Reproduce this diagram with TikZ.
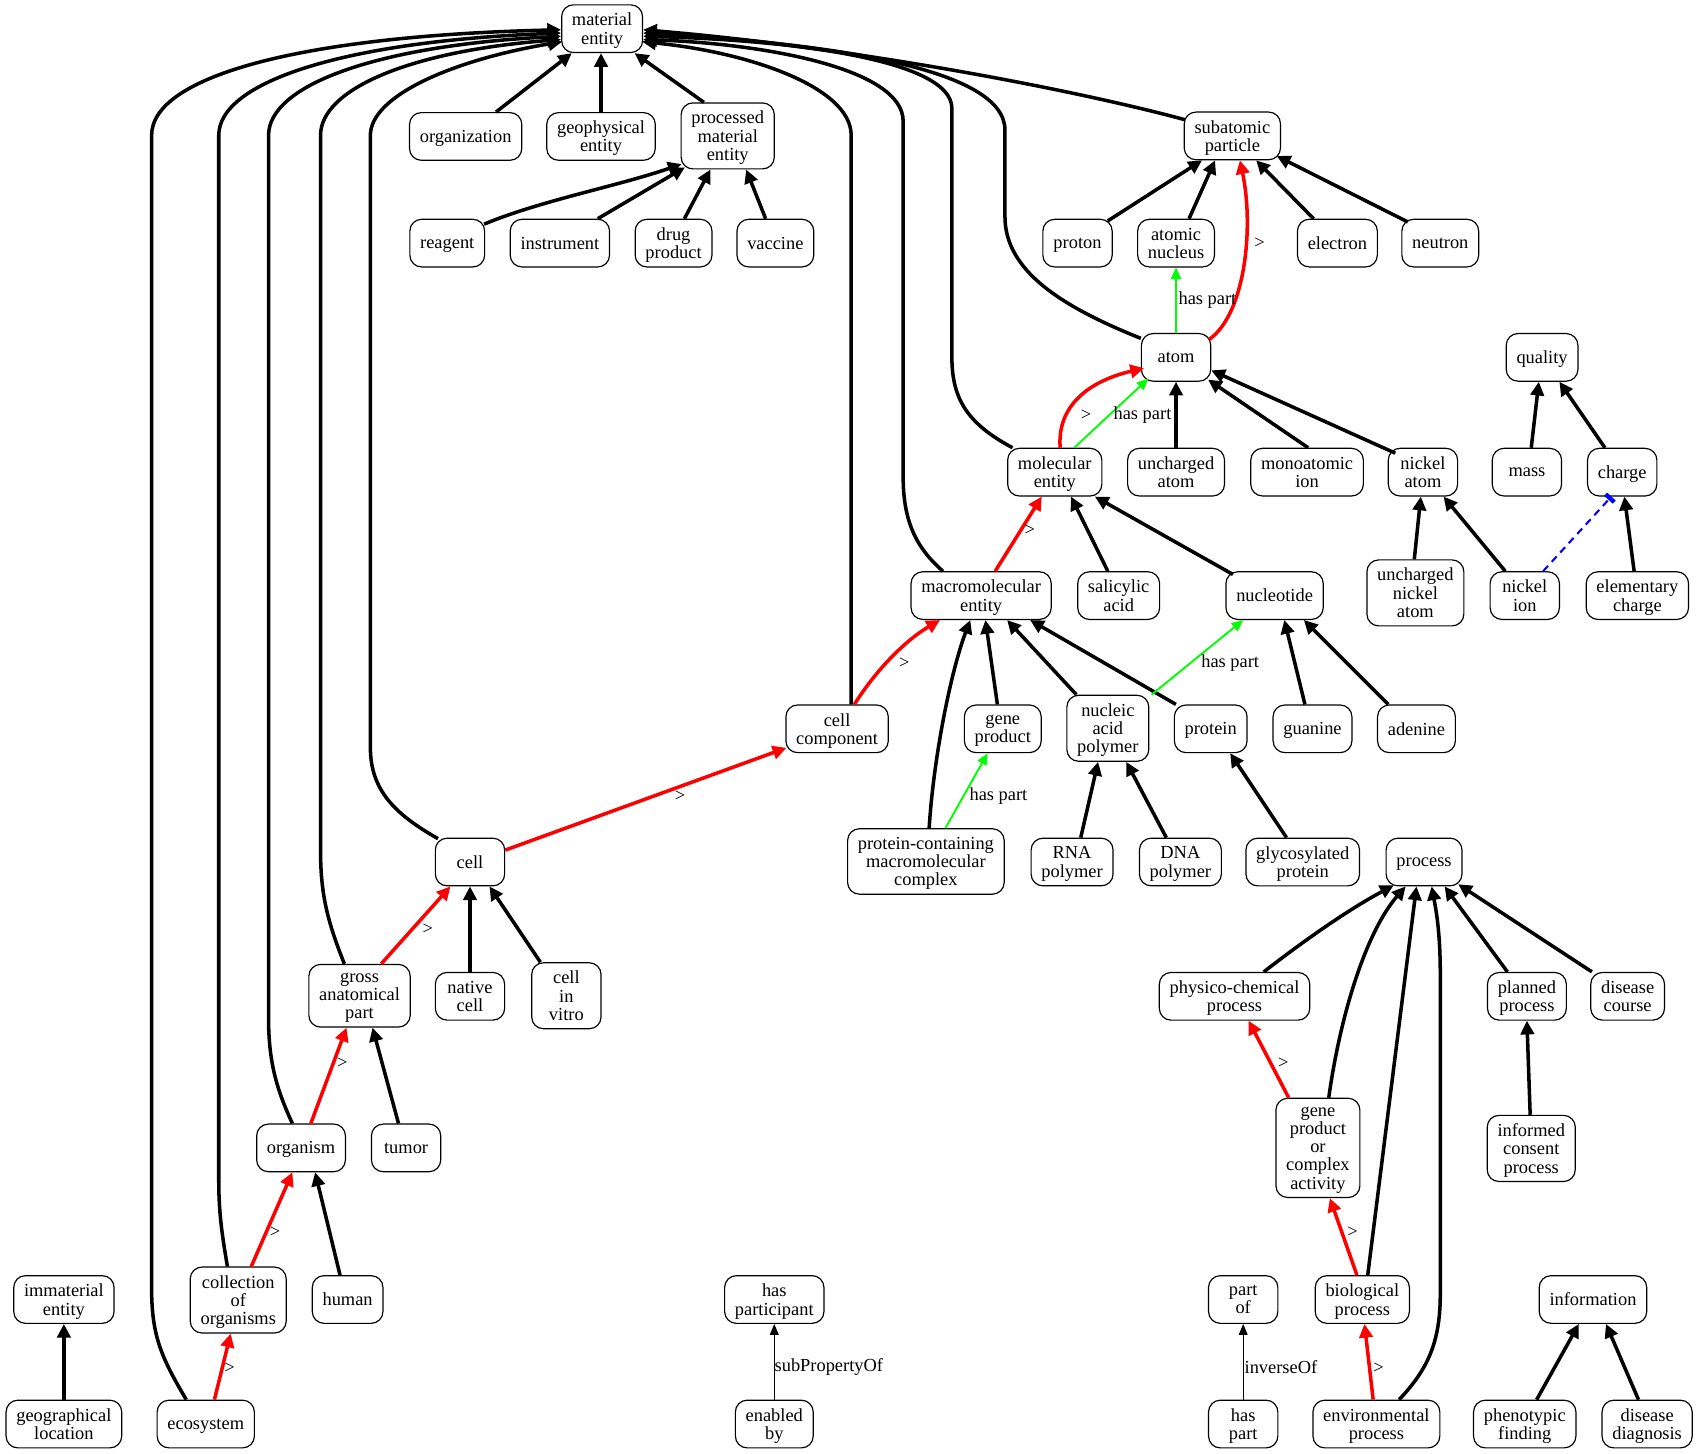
\documentclass[tikz,border=0pt]{standalone}
\usepackage{fontspec}
\setmainfont{Liberation Serif}
\usetikzlibrary{arrows.meta,calc}
\newcommand\nodefont{\fontsize{10.2}{10.14}\selectfont}
\begin{document}
\begin{tikzpicture}[x=0.6pt,y=-0.6pt,
  box/.style={draw, line width=0.65pt, rounded corners=6.5pt, align=center,
    minimum width=38.4pt, minimum height=26.4pt, inner xsep=5.7pt, inner ysep=4.6pt,
    text depth=0pt, font=\nodefont},
  lab/.style={font=\nodefont, inner sep=0pt},
  isa/.style={line width=1.95pt, -{Triangle[length=7.6pt,width=7.4pt]}},
  subcls/.style={isa, red},
  hp/.style={line width=1.05pt, green, -{Triangle[length=6.4pt,width=5.6pt]}},
  prop/.style={line width=0.65pt, -{Triangle[length=6pt,width=4.8pt]}},
  dis/.style={line width=1.15pt, blue, dash pattern=on 4pt off 3pt,
    -{Bar[width=6.5pt,line width=2.4pt]}}]
\path[fill=white,use as bounding box] (0,0) rectangle (1568,1342);

% ---------- nodes ----------
\node[box] (me) at (556,26.5) {material\\entity};
\node[box] (org) at (430,126) {organization};
\node[box] (geo) at (555,126) {geophysical\\entity};
\node[box] (pme) at (672,125.5) {processed\\material\\entity};
\node[box] (reag) at (413,224.5) {reagent};
\node[box] (instr) at (517,224.5) {instrument};
\node[box] (drug) at (622,224.5) {drug\\product};
\node[box] (vacc) at (716,224.5) {vaccine};
\node[box] (sub) at (1138,125.5) {subatomic\\particle};
\node[box] (proton) at (995,224.5) {proton};
\node[box] (nucl) at (1086,224.5) {atomic\\nucleus};
\node[box] (electron) at (1235,224.5) {electron};
\node[box] (neutron) at (1330,224.5) {neutron};
\node[box] (atom) at (1086,330) {atom};
\node[box] (quality) at (1424,330) {quality};
\node[box] (mol) at (974,436) {molecular\\entity};
\node[box] (uatom) at (1086,436) {uncharged\\atom};
\node[box] (mono) at (1207,436) {monoatomic\\ion};
\node[box] (niatom) at (1314,436) {nickel\\atom};
\node[box] (mass) at (1410,436) {mass};
\node[box] (charge) at (1498,436) {charge};
\node[box] (macro) at (906,550) {macromolecular\\entity};
\node[box] (sal) at (1033,550) {salicylic\\acid};
\node[box] (nuc) at (1177,550) {nucleotide};
\node[box] (unia) at (1307,547.5) {uncharged\\nickel\\atom};
\node[box] (niion) at (1408,550) {nickel\\ion};
\node[box] (echarge) at (1512,550) {elementary\\charge};
\node[box] (cc) at (773,673) {cell\\component};
\node[box] (gp) at (926,673) {gene\\product};
\node[box] (nap) at (1023,672.5) {nucleic\\acid\\polymer};
\node[box] (prot) at (1118,673) {protein};
\node[box] (gua) at (1212,673) {guanine};
\node[box] (ade) at (1308,673) {adenine};
\node[box] (pcmc) at (855,795.5) {protein-containing\\macromolecular\\complex};
\node[box] (rna) at (990,796) {RNA\\polymer};
\node[box] (dna) at (1090,796) {DNA\\polymer};
\node[box] (glyco) at (1203,796) {glycosylated\\protein};
\node[box] (process) at (1315,796) {process};
\node[box] (cell) at (434,796) {cell};
\node[box] (gap) at (332,919.5) {gross\\anatomical\\part};
\node[box] (native) at (434,920) {native\\cell};
\node[box] (vitro) at (523,919.5) {cell\\in\\vitro};
\node[box] (phys) at (1140,920) {physico-chemical\\process};
\node[box] (planned) at (1410,920) {planned\\process};
\node[box] (dcourse) at (1503,920) {disease\\course};
\node[box] (organism) at (278,1060) {organism};
\node[box] (tumor) at (375,1060) {tumor};
\node[box] (gpca) at (1217,1060) {gene\\product\\or\\complex\\activity};
\node[box] (icp) at (1414,1060.5) {informed\\consent\\process};
\node[box] (immat) at (59,1200) {immaterial\\entity};
\node[box] (coll) at (220,1200.5) {collection\\of\\organisms};
\node[box] (human) at (321,1200) {human};
\node[box] (hasp) at (715,1200) {has\\participant};
\node[box] (partof) at (1148,1200) {part\\of};
\node[box] (bio) at (1258,1200) {biological\\process};
\node[box] (info) at (1471,1200) {information};
\node[box] (geoloc) at (59,1315) {geographical\\location};
\node[box] (eco) at (190,1315) {ecosystem};
\node[box] (enabled) at (715,1315) {enabled\\by};
\node[box] (haspart) at (1148,1315) {has\\part};
\node[box] (env) at (1271,1315) {environmental\\process};
\node[box] (pheno) at (1408,1315) {phenotypic\\finding};
\node[box] (ddiag) at (1521,1315) {disease\\diagnosis};

% ---------- material entity ----------
\draw[isa] ($(org.north)+(28,0)$) -- ($(me.south)+(-28,0)$);
\draw[isa] (geo.north) -- (geo.north |- me.south);
\draw[isa] ($(pme.north)+(-22,0)$) -- ($(me.south)+(30,0)$);
\draw[isa] ($(eco.north)+(-18,0)$) .. controls (150,1255) and (140,1235) .. (140,1190)
  -- (140,125) .. controls (140,70) and (280,33) .. ($(me.west)+(0,1)$);
\draw[isa] ($(coll.north)+(-10,0)$) .. controls (205,1140) and (202,1120) .. (202,1090)
  -- (202,125) .. controls (202,75) and (320,38) .. ($(me.west)+(0,4)$);
\draw[isa] ($(organism.north)+(-8,0)$) .. controls (255,1005) and (248,980) .. (248,940)
  -- (248,125) .. controls (248,78) and (350,42) .. ($(me.west)+(0,7)$);
\draw[isa] ($(gap.north)+(-14,0)$) .. controls (302,850) and (296,825) .. (296,785)
  -- (296,125) .. controls (296,82) and (380,47) .. ($(me.west)+(0,10)$);
\draw[isa] ($(cell.north west)+(3,1)$) .. controls (365,752) and (342,730) .. (342,690)
  -- (342,125) .. controls (342,88) and (420,55) .. ($(me.west)+(1,12)$);
\draw[isa] ($(cc.north)+(13,0)$) -- (786,125) .. controls (786,80) and (690,48) .. ($(me.east)+(-1,12)$);
\draw[isa] ($(macro.north west)+(30,0)$) .. controls (845,505) and (834,480) .. (834,440)
  -- (834,112) .. controls (834,62) and (700,40) .. ($(me.east)+(0,10)$);
\draw[isa] ($(mol.north west)+(5,0)$) .. controls (895,392) and (879,370) .. (879,330)
  -- (879,100) .. controls (879,55) and (730,37) .. ($(me.east)+(0,7)$);
\draw[isa] ($(atom.north west)+(0,5)$) .. controls (980,283) and (928,250) .. (928,200)
  -- (928,120) .. controls (928,62) and (760,40) .. ($(me.east)+(0,4)$);
\draw[isa] ($(sub.west)+(1,-15)$) .. controls (1000,85) and (800,45) .. ($(me.east)+(0,1)$);

% ---------- processed material entity ----------
\draw[isa] ($(reag.north east)+(-1,5)$) .. controls (500,185) and (570,172) .. ($(pme.south west)+(1,-5)$);
\draw[isa] ($(instr.north)+(35,0)$) -- ($(pme.south west)+(4,-2)$);
\draw[isa] ($(drug.north)+(10,0)$) -- ($(pme.south)+(-16,0)$);
\draw[isa] ($(vacc.north)+(-9,0)$) -- ($(pme.south)+(17,0)$);

% ---------- subatomic particle / atom ----------
\draw[isa] ($(proton.north)+(28,2)$) -- ($(sub.south)+(-28,0)$);
\draw[isa] ($(nucl.north)+(12,0)$) -- ($(sub.south)+(-16,0)$);
\draw[isa] ($(electron.north)+(-22,0)$) -- ($(sub.south)+(22,0)$);
\draw[isa] ($(neutron.north west)+(6,3)$) -- ($(sub.south east)+(-4,-4)$);
\draw[subcls] ($(atom.north east)+(-2,6)$) .. controls (1150,290) and (1158,210) .. ($(sub.south)+(7,0)$);
\node[lab] (gtA) at (1163,225) {>};
\draw[hp] (atom.north) -- (nucl.south);
\node[lab,anchor=west] (hpA) at (1088,277) {has part};

\draw[subcls] ($(mol.north)+(5,0)$) .. controls (976,375) and (1005,352) .. ($(atom.west)+(3,10)$);
\node[lab] (gtB) at (1003,383) {>};
\draw[hp] ($(mol.north)+(18,0)$) -- ($(atom.south west)+(7,-3)$);
\node[lab] (hpB) at (1055,383) {has part};
\draw[isa] (uatom.north) -- (atom.south);
\draw[isa] ($(mono.north)+(1,0)$) -- ($(atom.south east)+(-3,-2)$);
\draw[isa] ($(niatom.north west)+(7,5)$) -- ($(atom.east)+(0,12)$);

% ---------- quality ----------
\draw[isa] ($(mass.north)+(4,0)$) -- ($(quality.south)+(-3,0)$);
\draw[isa] ($(charge.north)+(-16,0)$) -- ($(quality.south)+(16,0)$);
\draw[isa] ($(unia.north)+(-1,0)$) -- ($(niatom.south)+(-2,0)$);
\draw[isa] ($(niion.north)+(-18,0)$) -- ($(niatom.south)+(19,0)$);
\draw[isa] ($(echarge.north)+(-3,0)$) -- ($(charge.south)+(2,0)$);
\draw[dis] ($(niion.north)+(17,0)$) -- ($(charge.south)+(-10,0)$);

% ---------- molecular entity ----------
\draw[subcls] ($(macro.north)+(13,0)$) -- ($(mol.south)+(-12,0)$);
\node[lab] (gtC) at (951,490) {>};
\draw[isa] ($(sal.north)+(-10,0)$) -- ($(mol.south)+(15,0)$);
\draw[isa] ($(nuc.north west)+(7,3)$) -- ($(mol.south east)+(-7,0)$);

% ---------- macromolecular entity ----------
\draw[subcls] ($(cc.north)+(16,0)$) .. controls (808,620) and (835,592) .. ($(macro.south)+(-38,0)$);
\node[lab] (gtD) at (835,612) {>};
\draw[isa] ($(gp.north)+(-5,0)$) -- ($(macro.south)+(4,0)$);
\draw[isa] ($(nap.north)+(-29,0)$) -- ($(macro.south)+(24,0)$);
\draw[isa] ($(prot.north west)+(2,0)$) -- ($(macro.south east)+(-20,0)$);
\draw[isa] ($(pcmc.north)+(3,0)$) .. controls (862,700) and (878,620) .. ($(macro.south)+(-10,0)$);
\draw[hp] ($(nap.north east)+(2,0)$) -- ($(nuc.south)+(-29,0)$);
\node[lab] (hpC) at (1136,612) {has part};
\draw[isa] ($(gua.north)+(-7,0)$) -- ($(nuc.south)+(9,0)$);
\draw[isa] ($(ade.north)+(-26,0)$) -- ($(nuc.south)+(27,0)$);
\draw[hp] ($(pcmc.north)+(18,0)$) -- ($(gp.south)+(-14,0)$);
\node[lab] (hpD) at (922,735) {has part};
\draw[isa] ($(rna.north)+(8,0)$) -- ($(nap.south)+(-9,0)$);
\draw[isa] ($(dna.north)+(-13,0)$) -- ($(nap.south)+(17,0)$);
\draw[isa] ($(glyco.north)+(-15,0)$) -- ($(prot.south)+(18,0)$);

% ---------- cell and organisms ----------
\draw[subcls] ($(cell.east)+(0,-11)$) -- ($(cc.south west)+(1,-5)$);
\node[lab] (gtE) at (628,735) {>};
\draw[subcls] ($(gap.north)+(20,0)$) -- ($(cell.south)+(-18,0)$);
\node[lab] (gtF) at (395,858) {>};
\draw[isa] (native.north) -- (cell.south);
\draw[isa] ($(vitro.north)+(-24,0)$) -- ($(cell.south)+(18,0)$);
\draw[subcls] ($(organism.north)+(9,0)$) -- ($(gap.south)+(-12,0)$);
\node[lab] (gtG) at (316,982) {>};
\draw[isa] ($(tumor.north)+(-7,0)$) -- ($(gap.south)+(12,0)$);
\draw[subcls] ($(coll.north)+(12,0)$) -- ($(organism.south)+(-8,0)$);
\node[lab] (gtH) at (254,1138) {>};
\draw[isa] ($(human.north)+(-7,0)$) -- ($(organism.south)+(13,0)$);
\draw[subcls] ($(eco.north)+(8,0)$) -- ($(coll.south)+(-7,0)$);
\node[lab] (gtI) at (212,1263) {>};
\draw[isa] (geoloc.north) -- (immat.south);

% ---------- properties ----------
\draw[prop] (enabled.north) -- (hasp.south);
\node[lab,anchor=west] (spo) at (715,1262) {subPropertyOf};
\draw[prop] (haspart.north) -- (partof.south);
\node[lab,anchor=west] (inv) at (1149,1262) {inverseOf};

% ---------- process ----------
\draw[subcls] ($(env.north)+(-3,0)$) -- ($(bio.south)+(2,0)$);
\node[lab] (gtJ) at (1273,1263) {>};
\draw[subcls] ($(bio.north)+(-5,0)$) -- ($(gpca.south)+(11,0)$);
\node[lab] (gtK) at (1249,1138) {>};
\draw[subcls] ($(gpca.north)+(-27,0)$) -- ($(phys.south)+(13,0)$);
\node[lab] (gtL) at (1185,982) {>};
\draw[isa] ($(phys.north)+(27,0)$) .. controls (1205,868) and (1245,840) .. ($(process.south)+(-28,-1)$);
\draw[isa] ($(gpca.north)+(10,0)$) .. controls (1238,935) and (1262,860) .. ($(process.south)+(-17,0)$);
\draw[isa] ($(bio.north)+(5,0)$) -- ($(process.south)+(-7,0)$);
\draw[isa] ($(env.north)+(21,0)$) .. controls (1318,1265) and (1330,1240) .. (1330,1195)
  -- (1330,900) .. controls (1330,860) and (1326,840) .. ($(process.south)+(7,0)$);
\draw[isa] ($(planned.north)+(-18,0)$) -- ($(process.south)+(19,0)$);
\draw[isa] ($(dcourse.north)+(-33,0)$) -- ($(process.south east)+(-4,-2)$);
\draw[isa] ($(icp.north)+(-1,0)$) -- (planned.south);

% ---------- information ----------
\draw[isa] ($(pheno.north)+(11,0)$) -- ($(info.south)+(-13,0)$);
\draw[isa] ($(ddiag.north)+(-8,0)$) -- ($(info.south)+(12,0)$);
\end{tikzpicture}
\end{document}
